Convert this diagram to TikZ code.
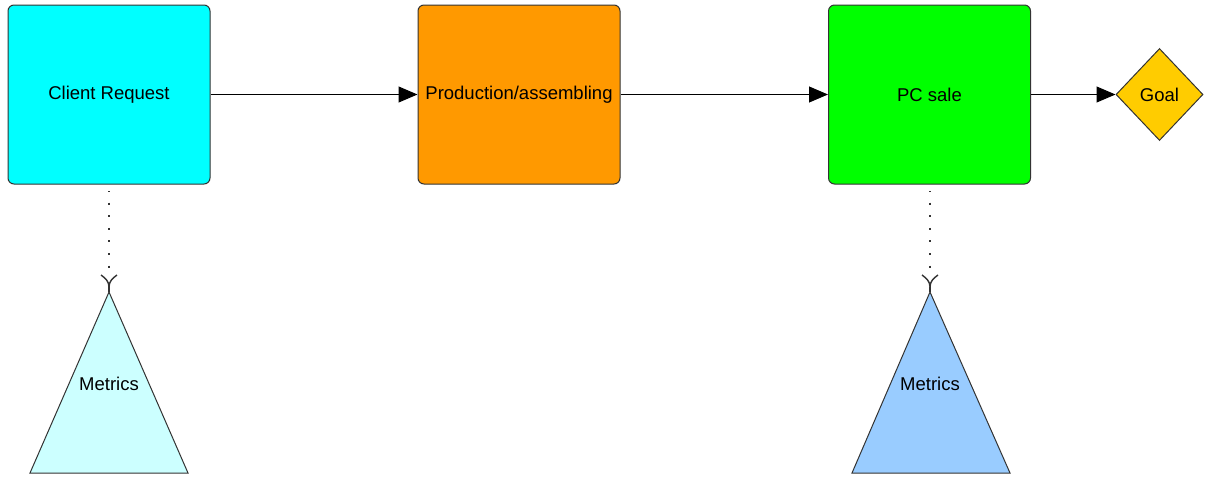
\documentclass[tikz,border=0pt]{standalone}
\usepackage{fontspec}
\setmainfont{Liberation Sans}
\usetikzlibrary{arrows.meta,shapes.geometric}
\definecolor{edge}{HTML}{333333}
\definecolor{cbox}{HTML}{00FFFF}
\definecolor{obox}{HTML}{FF9900}
\definecolor{gbox}{HTML}{00FF00}
\definecolor{goalc}{HTML}{FFCC00}
\definecolor{tri1}{HTML}{CCFFFF}
\definecolor{tri2}{HTML}{99CCFF}
\tikzset{
  procbox/.style={draw=edge, line width=1pt, rounded corners=6pt, minimum width=202pt, minimum height=179pt, inner sep=0pt, font=\fontsize{18.5}{21}\selectfont},
  goalbox/.style={draw=edge, line width=1pt, shape=diamond, fill=goalc, minimum width=87pt, minimum height=92pt, inner sep=0pt, font=\fontsize{18.5}{21}\selectfont},
  flow/.style={line width=1pt, draw=black, -{Triangle[length=19pt,width=16pt]}},
  measure/.style={line width=2.2pt, draw=edge, dash pattern=on 2pt off 10.6pt, dash phase=1pt},
  tip/.style={line width=1.4pt, draw=edge},
  tri/.style={draw=edge, line width=1pt},
  lbl/.style={font=\fontsize{18.5}{21}\selectfont, inner sep=0pt}
}
\begin{document}
\begin{tikzpicture}[x=1pt,y=-1pt]
\useasboundingbox (0,0) rectangle (1205,477);
% boxes
\node[procbox, fill=cbox] (cr) at (109,94.5) {Client Request};
\node[procbox, fill=obox] (pa) at (519,94.5) {Production/assembling};
\node[procbox, fill=gbox] (pc) at (929.5,94.5) {PC sale};
\node[goalbox] (goal) at (1159.5,94.5) {Goal};
% flows
\draw[flow] (cr.east) -- (pa.west);
\draw[flow] (pa.east) -- (pc.west);
\draw[flow] (pc.east) -- (goal.west);
% triangles
\coordinate (t1) at (109,292);
\coordinate (t2) at (930,292);
\filldraw[tri, fill=tri1] (t1) -- (188,473) -- (30,473) -- cycle;
\filldraw[tri, fill=tri2] (t2) -- (1010,473) -- (852,473) -- cycle;
\node[lbl] (m1) at (109,384) {Metrics};
\node[lbl] (m2) at (930,384) {Metrics};
% dotted measure links
\coordinate (d1s) at (109,191);
\coordinate (d2s) at (930,191);
\coordinate (y1) at (109,287);
\coordinate (y2) at (930,287);
\draw[measure] (d1s) -- (109,269);
\draw[measure] (d2s) -- (930,269);
\draw[tip] (101,275) .. controls (105,278) and (109,281) .. (y1) .. controls (109,281) and (113,278) .. (117,275);
\draw[tip] (y1) -- (t1);
\draw[tip] (922,275) .. controls (926,278) and (930,281) .. (y2) .. controls (930,281) and (934,278) .. (938,275);
\draw[tip] (y2) -- (t2);
\end{tikzpicture}
\end{document}
